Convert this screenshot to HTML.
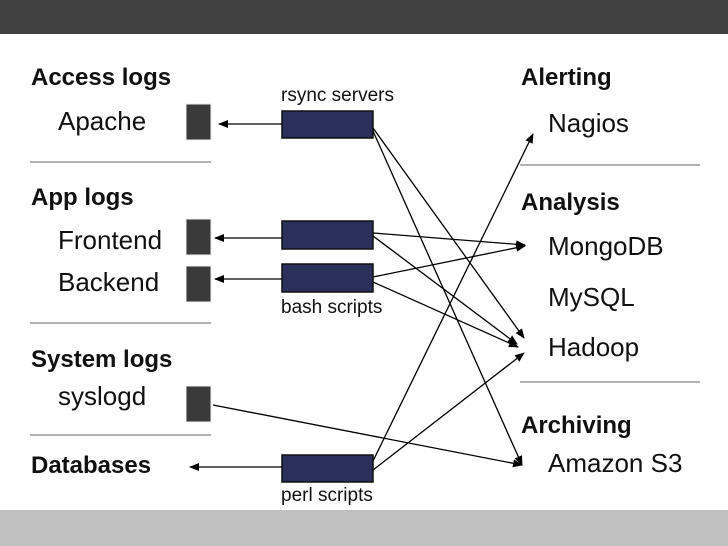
<!DOCTYPE html>
<html><head><style>
body{margin:0;width:728px;height:546px;position:relative;background:#fff;overflow:hidden;font-family:"Liberation Sans",sans-serif;}
.t{position:absolute;font-size:26px;color:#111;white-space:nowrap;line-height:1;}
.b{font-weight:bold;font-size:24px;}
.s{font-size:19px;}
</style></head><body>
<div style="position:absolute;left:0;top:0;width:728px;height:34px;background:#414141"></div>
<div style="position:absolute;left:0;top:510px;width:728px;height:36px;background:#c0c0c0"></div>
<svg width="728" height="546" style="position:absolute;left:0;top:0">
<defs><marker id="a" markerWidth="10" markerHeight="8" refX="9" refY="4" orient="auto" markerUnits="userSpaceOnUse"><path d="M0,0 L10,4 L0,8 z" fill="#000"/></marker></defs>
<g stroke="#999" stroke-width="1.5">
<line x1="30" y1="162" x2="211" y2="162"/><line x1="30" y1="323" x2="211" y2="323"/><line x1="30" y1="435" x2="211" y2="435"/>
<line x1="520" y1="165" x2="700" y2="165"/><line x1="520" y1="382" x2="700" y2="382"/>
</g>
<g fill="#3a3a3a" stroke="#eee" stroke-width="1">
<rect x="186" y="104" width="25" height="36"/><rect x="186" y="219" width="25" height="36"/><rect x="186" y="266" width="25" height="36"/><rect x="186" y="386" width="25" height="36"/>
</g>
<g fill="#2b305a" stroke="#111" stroke-width="1.5">
<rect x="282" y="111" width="91" height="27"/><rect x="282" y="221" width="91" height="28"/><rect x="282" y="264" width="91" height="28"/><rect x="282" y="455" width="91" height="27"/>
</g>
<g stroke="#000" stroke-width="1.3" fill="none" marker-end="url(#a)">
<line x1="282" y1="124" x2="219" y2="124"/>
<line x1="282" y1="238" x2="215" y2="238"/>
<line x1="282" y1="279" x2="215" y2="279"/>
<line x1="282" y1="467" x2="190" y2="467"/>
<line x1="373" y1="128" x2="524" y2="338"/>
<line x1="373" y1="131" x2="522" y2="465"/>
<line x1="373" y1="233" x2="525" y2="245"/>
<line x1="373" y1="236" x2="517" y2="344"/>
<line x1="373" y1="277" x2="525" y2="246"/>
<line x1="373" y1="282" x2="518" y2="347"/>
<line x1="213" y1="405" x2="522" y2="465"/>
<line x1="373" y1="461" x2="533" y2="134"/>
<line x1="373" y1="470" x2="524" y2="353"/>
</g>
</svg>
<div class="t b" style="left:31px;top:66px">Access logs</div>
<div class="t" style="left:58px;top:108px">Apache</div>
<div class="t b" style="left:31px;top:186px">App logs</div>
<div class="t" style="left:58px;top:227px">Frontend</div>
<div class="t" style="left:58px;top:269px">Backend</div>
<div class="t b" style="left:31px;top:348px">System logs</div>
<div class="t" style="left:58px;top:383px">syslogd</div>
<div class="t b" style="left:31px;top:454px">Databases</div>
<div class="t s" style="left:281px;top:86px">rsync servers</div>
<div class="t s" style="left:281px;top:298px">bash scripts</div>
<div class="t s" style="left:281px;top:486px">perl scripts</div>
<div class="t b" style="left:521px;top:66px">Alerting</div>
<div class="t" style="left:548px;top:110px">Nagios</div>
<div class="t b" style="left:521px;top:191px">Analysis</div>
<div class="t" style="left:548px;top:233px">MongoDB</div>
<div class="t" style="left:548px;top:284px">MySQL</div>
<div class="t" style="left:548px;top:334px">Hadoop</div>
<div class="t b" style="left:521px;top:414px">Archiving</div>
<div class="t" style="left:548px;top:450px">Amazon S3</div>
</body></html>
